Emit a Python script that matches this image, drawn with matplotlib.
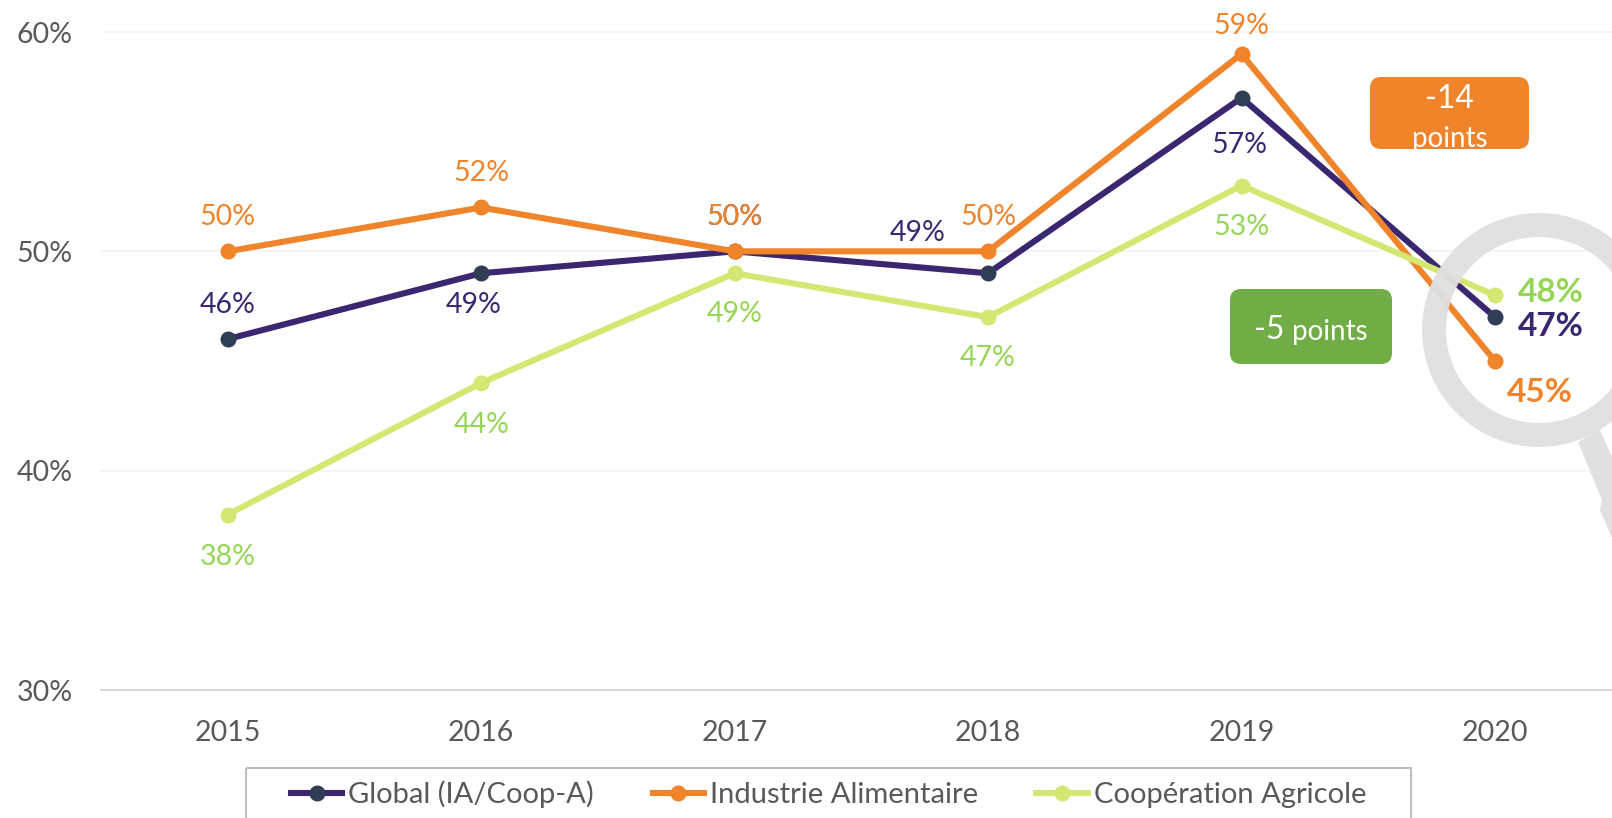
import matplotlib
matplotlib.use("Agg")
import matplotlib.pyplot as plt
from matplotlib.patches import FancyBboxPatch, Polygon, Rectangle, Wedge

plt.rcParams['font.family'] = ['Lato', 'DejaVu Sans']

years = ['2015', '2016', '2017', '2018', '2019', '2020']
y_ticks = [30, 40, 50, 60]
global_vals = [46, 49, 50, 49, 57, 47]
industrie_vals = [50, 52, 50, 50, 59, 45]
coop_vals = [38, 44, 49, 47, 53, 48]
names = ['Global (IA/Coop-A)', 'Industrie Alimentaire', 'Coopération Agricole']

# Label offsets from each point, in pixels
global_off = [(0, 34), (-8, -32), (0, 34), (-70, 40), (-2, -47), (56, -9)]
industrie_off = [(0, 34), (0, 34), (0, 34), (0, 34), (0, 28), (45, -31)]
coop_off = [(0, -42), (0, -42), (0, -41), (0, -41), (0, -41), (56, 3)]

PURPLE, DARK = '#3A2770', '#2F3E55'
ORANGE = '#F0842A'
LIME, LIME_TXT = '#D4E772', '#96D656'
GRAY = '#595959'
W, H = 1612, 818
FS = 20.5

fig = plt.figure(figsize=(W / 100, H / 100), dpi=100, facecolor='white')
ax = fig.add_axes([101 / W, (H - 690) / H, (W - 101) / W, 690 / H])
ax.set_xlim(-0.5, (W - 228) / 253.4)
ax.set_ylim(30, 60 + 32 / 21.93)

x = list(range(len(years)))
series = [
    (global_vals, PURPLE, DARK, PURPLE, global_off, names[0]),
    (industrie_vals, ORANGE, ORANGE, ORANGE, industrie_off, names[1]),
    (coop_vals, LIME, LIME, LIME_TXT, coop_off, names[2]),
]
handles = []
for vals, lc, mc, tc, offs, name in series:
    line, = ax.plot(x, vals, color=lc, lw=4.4, marker='o', ms=10.5, mfc=mc, mec=mc,
                    label=name, zorder=3, solid_joinstyle='round')
    handles.append(line)
    for i, (v, off) in enumerate(zip(vals, offs)):
        last = i == len(vals) - 1
        ax.annotate(f'{v}%', (i, v), xytext=off, textcoords='offset pixels',
                    ha='center', va='center', color=tc, zorder=5, annotation_clip=False,
                    fontsize=FS + 3.5 if last else FS, fontweight='bold' if last else 'normal')

ax.set_xticks(x, years)
ax.set_yticks(y_ticks, [f'{t}%' for t in y_ticks])
ax.tick_params(axis='both', length=0, labelsize=20.5, labelcolor=GRAY)
ax.tick_params(axis='x', pad=21.4)
ax.tick_params(axis='y', pad=20.5)
ax.grid(axis='y', color='#F2F2F2', lw=1.1)
ax.set_axisbelow(True)
for s in ['top', 'left', 'right']:
    ax.spines[s].set_visible(False)
ax.spines['bottom'].set_color('#D9D9D9')
ax.spines['bottom'].set_linewidth(1.5)

ax.legend(handles=handles, loc='center left', bbox_to_anchor=(291 / W, 1 - 794 / H),
          bbox_transform=fig.transFigure, ncol=3, frameon=False, fontsize=21,
          labelcolor=GRAY, borderpad=0, borderaxespad=0, handlelength=1.75,
          handletextpad=0.22, columnspacing=2.0)

# Overlay in pixel coordinates for the callouts and the magnifier
ov = fig.add_axes([0, 0, 1, 1], zorder=4)
ov.set_xlim(0, W)
ov.set_ylim(H, 0)
ov.axis('off')
ov.patch.set_alpha(0)

ov.add_patch(Rectangle((246, 768), 1411 - 246, 70, fill=False, ec='#BFBFBF', lw=1.5))

ov.add_patch(Wedge((1539, 330), 117, 0, 360, width=24, fc='#E0E0E0', ec='none', alpha=0.96))
ov.add_patch(Polygon([(1578, 442), (1602, 500), (1600, 510), (1612, 538), (1612, 457), (1600, 430)],
                     closed=True, fc='#E0E0E0', ec='none'))

r = 11
ov.add_patch(FancyBboxPatch((1370 + r, 77 + r), 159 - 2 * r, 72 - 2 * r,
                            boxstyle=f'round,pad={r},rounding_size={r}', fc=ORANGE, ec='none'))
ov.add_patch(FancyBboxPatch((1230 + r, 289 + r), 162 - 2 * r, 75 - 2 * r,
                            boxstyle=f'round,pad={r},rounding_size={r}', fc='#70AD47', ec='none'))
ov.text(1449, 99, '-14', color='white', fontsize=23, ha='center', va='center')
ov.text(1450, 139, 'points', color='white', fontsize=20, ha='center', va='center')
ov.text(1269, 330, '-5', color='white', fontsize=23, ha='center', va='center')
ov.text(1330, 332, 'points', color='white', fontsize=20, ha='center', va='center')

fig.savefig('out.png', dpi=100, facecolor='white')
